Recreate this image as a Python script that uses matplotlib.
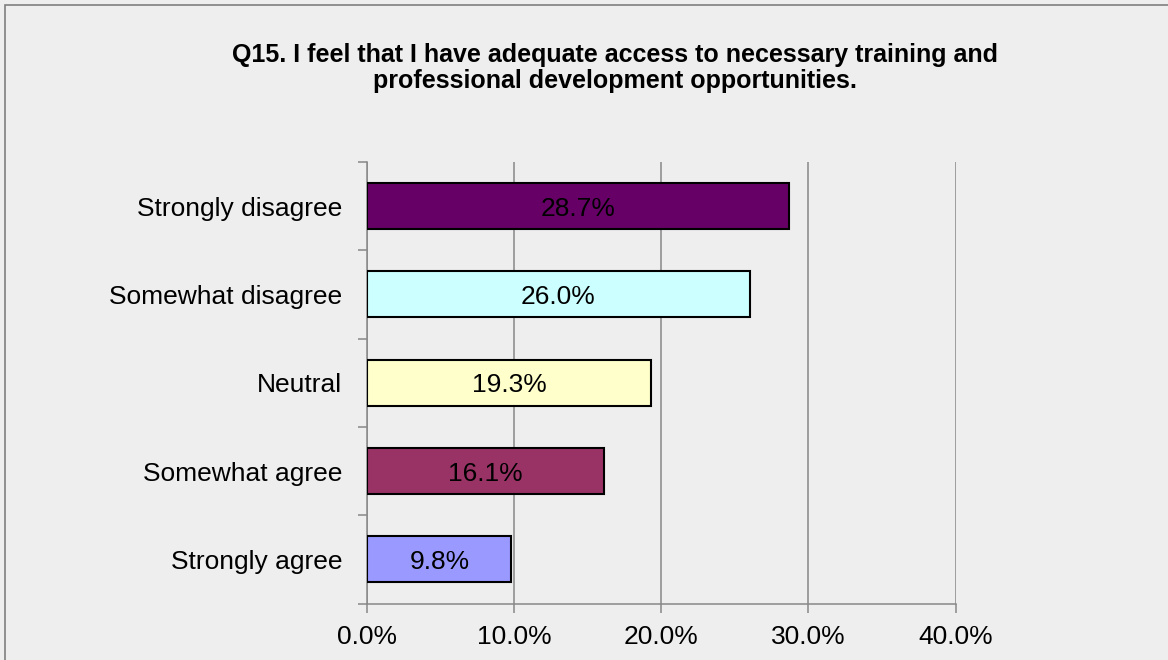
import matplotlib
matplotlib.use("Agg")
import matplotlib.pyplot as plt
from matplotlib.patches import Rectangle
from matplotlib.ticker import FixedLocator, FuncFormatter

categories = ["Strongly disagree", "Somewhat disagree", "Neutral", "Somewhat agree", "Strongly agree"]
values = [28.7, 26.0, 19.3, 16.1, 9.8]
colors = ["#660066", "#CCFFFF", "#FFFFCC", "#993366", "#9999FF"]
x_ticks = [0, 10, 20, 30, 40]
title_lines = ["Q15. I feel that I have adequate access to necessary training and",
               "professional development opportunities."]

W, H = 1168, 660
plt.rcParams['font.family'] = ['Liberation Sans', 'DejaVu Sans']
fig = plt.figure(figsize=(W / 100, H / 100), dpi=100)
fig.patch.set_facecolor("#EEEEEE")

# outer border (top and left visible)
fig.patches.append(Rectangle((5 / W, -0.1), 1.2, 1.1 - 5 / H, transform=fig.transFigure,
                             fill=False, edgecolor="#7F7F7F", linewidth=1.2, clip_on=True))

left, right, top, bottom = 367.3, 955.5, 162, 603.5
ax = fig.add_axes([left / W, 1 - bottom / H, (right - left) / W, (bottom - top) / H])
ax.set_facecolor("#EEEEEE")

n = len(categories)
ypos = list(range(n - 1, -1, -1))
ax.barh(ypos, values, height=0.52, color=colors, edgecolor="black", linewidth=1.5, zorder=3)
for y, v in zip(ypos, values):
    ax.text(v / 2, y, f"{v:.1f}%", ha="center", va="center_baseline", fontsize=19,
            color="black", zorder=4)

ax.set_xlim(0, 40)
ax.set_ylim(-0.5, n - 0.5)
ax.set_xticks(x_ticks)
ax.xaxis.set_major_formatter(FuncFormatter(lambda x, p: f"{x:.1f}%"))
ax.set_yticks(ypos)
ax.set_yticklabels(categories)
ax.yaxis.set_minor_locator(FixedLocator([i - 0.5 for i in range(n + 1)]))

ax.tick_params(axis="y", which="major", length=0, pad=18, labelsize=19)
ax.tick_params(axis="y", which="minor", length=6.5, width=1.1, color="#888888", direction="out")
ax.tick_params(axis="x", which="major", length=6.5, width=1.1, color="#888888", pad=9, labelsize=19)

for s in ["top", "right"]:
    ax.spines[s].set_visible(False)
for s in ["left", "bottom"]:
    ax.spines[s].set_color("#888888")
    ax.spines[s].set_linewidth(1.1)

ax.grid(axis="x", color="#888888", linewidth=1.1, zorder=0)
ax.set_axisbelow(True)

fig.text(615 / W, 1 - 62 / H, title_lines[0], ha="center", va="baseline",
         fontsize=18, fontweight="bold")
fig.text(615 / W, 1 - 88 / H, title_lines[1], ha="center", va="baseline",
         fontsize=18, fontweight="bold")

fig.savefig("out.png", dpi=100, facecolor=fig.get_facecolor())
